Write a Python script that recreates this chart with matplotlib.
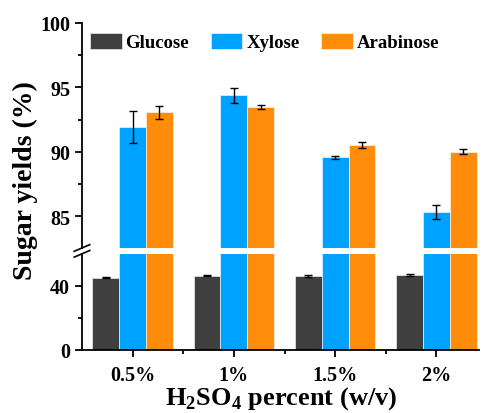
import numpy as np
import matplotlib
matplotlib.use('Agg')
import matplotlib.pyplot as plt
from matplotlib.lines import Line2D

plt.rcParams['font.family'] = 'Liberation Serif'
plt.rcParams['font.weight'] = 'bold'
plt.rcParams['mathtext.fontset'] = 'custom'
plt.rcParams['mathtext.rm'] = 'Liberation Serif:bold'
plt.rcParams['mathtext.bf'] = 'Liberation Serif:bold'

# data
categories = ['0.5%', '1%', '1.5%', '2%']
glucose = [45.0, 46.3, 46.3, 46.8]
glucose_err = [0.3, 0.3, 0.5, 0.4]
xylose = [91.95, 94.4, 89.55, 85.3]
xylose_err = [1.25, 0.58, 0.1, 0.54]
arabinose = [93.05, 93.5, 90.54, 90.0]
arabinose_err = [0.5, 0.15, 0.22, 0.2]

colors = {'Glucose': '#3f3f3f', 'Xylose': '#00a2ff', 'Arabinose': '#ff8c0a'}

ind = np.arange(len(categories))  # the x locations for the groups
width = 0.265  # the width of the bars

fig = plt.figure(figsize=(4.85, 4.14), dpi=100)
ax_top = fig.add_axes([0.169, 0.3986, 0.8186, 0.5435])
ax_bot = fig.add_axes([0.169, 0.1529, 0.8186, 0.2312])

series = [('Glucose', glucose, glucose_err, -width),
          ('Xylose', xylose, xylose_err, 0),
          ('Arabinose', arabinose, arabinose_err, width)]

for ax in (ax_top, ax_bot):
    for name, vals, errs, off in series:
        ax.bar(ind + off, vals, width, yerr=errs, color=colors[name],
               edgecolor='white', linewidth=0.4, label=name,
               error_kw=dict(ecolor='black', elinewidth=1, capsize=3, capthick=1))
    ax.set_xlim(-0.5, 3.42)
    for s in ('top', 'right'):
        ax.spines[s].set_visible(False)
    for s in ('left', 'bottom'):
        ax.spines[s].set_linewidth(1.3)
    ax.tick_params(which='major', direction='out', length=5, width=1.3, labelsize=14.5)
    ax.tick_params(which='minor', direction='out', length=3, width=1.3)

ax_top.set_ylim(82.52, 100)
ax_top.set_yticks([85, 90, 95, 100])
ax_top.set_yticks([87.5, 92.5, 97.5], minor=True)
ax_top.spines['bottom'].set_visible(False)
ax_top.set_xticks([])

ax_bot.set_ylim(0, 60)
ax_bot.set_yticks([0, 40])
ax_bot.set_yticks([20], minor=True)
ax_bot.set_xticks(ind)
ax_bot.set_xticklabels(categories)
ax_bot.set_xticks([0.5, 1.5, 2.5], minor=True)
ax_bot.tick_params(axis='x', which='major', pad=6)

# break marks on the left spine
x0 = 0.169
for yb in (0.3986, 0.3845):
    fig.add_artist(Line2D([x0 - 0.016, x0 + 0.016], [yb - 0.008, yb + 0.008],
                          color='black', lw=1.2, transform=fig.transFigure))

fig.text(0.052, 0.563, 'Sugar yields (%)', rotation=90, ha='center', va='center',
         fontsize=20)
fig.text(0.58, 0.004, r'H$_\mathrm{2}$SO$_\mathrm{4}$ percent (w/v)', ha='center',
         va='bottom', fontsize=19)

handles, labels = ax_top.get_legend_handles_labels()
ax_top.legend(handles, labels, ncol=3, frameon=False, loc='upper left',
              bbox_to_anchor=(0.185, 0.918), bbox_transform=fig.transFigure,
              borderpad=0, borderaxespad=0, handlelength=1.7, handleheight=0.9,
              handletextpad=0.2, columnspacing=1.15, prop={'size': 13.5, 'weight': 'bold'})

fig.savefig('out.png', dpi=100)
